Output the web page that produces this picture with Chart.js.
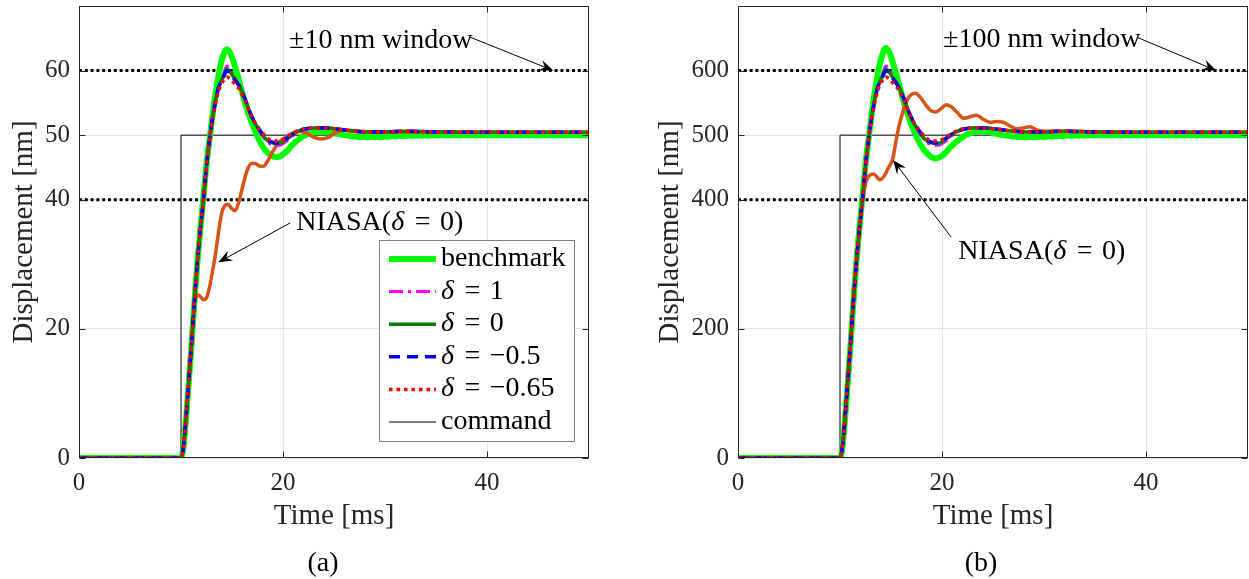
<!DOCTYPE html>
<html>
<head>
<meta charset="utf-8">
<script src="https://cdn.jsdelivr.net/npm/chart.js@4.4.1/dist/chart.umd.min.js"></script>
<style>
  html, body { margin: 0; padding: 0; background: #fff; }
  #wrap { position: relative; width: 1249px; height: 579px; overflow: hidden; }
  canvas { position: absolute; top: 0; }
  #cvA { left: 0; }
  #cvB { left: 620px; }
  .cap { position: absolute; top: 562px; line-height: 1; transform: translate(-50%, -50%);
         font: 28px "Liberation Serif", "Times New Roman", serif; color: #000; }
</style>
</head>
<body>
<div id="wrap">
  <canvas id="cvA" width="620" height="579"></canvas>
  <canvas id="cvB" width="629" height="579"></canvas>
  <div class="cap" style="left:323px">(a)</div>
  <div class="cap" style="left:981px">(b)</div>
</div>
<script>
var FONT = '"Liberation Serif", "Times New Roman", serif';

// time grid [ms] shared by benchmark and the delta runs
var T = [0, 10, 10.2, 10.4, 10.7, 11.0, 11.3, 11.6, 11.9, 12.2,
         12.5, 12.9, 13.3, 13.7, 14.1, 14.5, 14.9, 15.3, 15.8, 16.3,
         16.8, 17.3, 17.8, 18.3, 18.8, 19.3, 19.8, 20.3, 20.8, 21.5,
         22.2, 23, 24, 25, 26, 27, 28, 30, 32, 35,
         40, 45, 50];

// (a) 50 nm step
var benchA = [0, 0, 1.2, 4.2, 10.4, 16.8, 23.8, 30.2, 35.6, 40.4,
              45.5, 50.6, 55.6, 59.4, 62.2, 63.3, 62.5, 60.6, 57.8, 54.9,
              52.5, 50.5, 48.8, 47.6, 46.9, 46.6, 46.8, 47.4, 48.3, 49.3,
              50.0, 50.4, 50.5, 50.3, 50.0, 49.8, 49.7, 49.75, 49.9, 50.0,
              50.0, 50.0, 50.0];
var d1A = [0, 0, 1.3, 4.4, 10.6, 17.0, 24.0, 30.2, 35.4, 40.0,
           45.2, 50.6, 54.7, 57.6, 59.1, 60.7, 60.0, 58.8, 57.4, 55.4,
           53.3, 51.6, 50.4, 49.2, 48.6, 48.4, 48.5, 49.0, 49.7, 50.5,
           50.9, 51.1, 51.15, 51.0, 50.8, 50.6, 50.5, 50.5, 50.6, 50.5,
           50.45, 50.45, 50.45];
var d0A = [0, 0, 1.3, 4.4, 10.6, 17.0, 24.0, 30.2, 35.4, 40.0,
           45.2, 50.6, 54.6, 57.5, 58.9, 60.3, 59.6, 58.6, 57.4, 55.5,
           53.4, 51.7, 50.6, 49.4, 48.9, 48.7, 48.8, 49.3, 49.9, 50.6,
           50.95, 51.1, 51.15, 51.0, 50.8, 50.6, 50.5, 50.5, 50.6, 50.5,
           50.45, 50.45, 50.45];
var dm05A = [0, 0, 1.3, 4.4, 10.6, 17.0, 24.0, 30.2, 35.4, 40.0,
             45.2, 50.6, 54.5, 57.4, 58.7, 60.0, 59.4, 58.5, 57.3, 55.5,
             53.4, 51.8, 50.6, 49.5, 49.0, 48.8, 48.9, 49.4, 50.0, 50.6,
             50.95, 51.1, 51.1, 51.0, 50.8, 50.6, 50.5, 50.5, 50.6, 50.5,
             50.45, 50.45, 50.45];
var dm065A = [0, 0, 1.3, 4.4, 10.6, 17.0, 24.0, 30.2, 35.4, 40.0,
              45.2, 50.5, 54.2, 56.9, 58.3, 59.0, 58.6, 57.9, 56.9, 55.2,
              53.3, 51.8, 50.7, 49.8, 49.2, 49.1, 49.2, 49.6, 50.1, 50.7,
              51.0, 51.1, 51.1, 51.0, 50.8, 50.6, 50.5, 50.5, 50.6, 50.5,
              50.45, 50.45, 50.45];
var niasaTA = [0, 10, 10.2, 10.4, 10.7, 11.0, 11.3, 11.6, 11.9, 12.2,
               12.5, 12.8, 13.1, 13.4, 13.7, 14.0, 14.3, 14.6, 15.0, 15.3,
               15.7, 16.1, 16.5, 16.9, 17.3, 17.7, 18.1, 18.5, 18.9, 19.4,
               19.9, 20.4, 21.0, 21.6, 22.3, 23.0, 23.7, 24.4, 25.2, 26,
               28, 30, 35, 40, 45, 50];
var niasaA = [0, 0, 1.3, 4.4, 10.6, 17.0, 23.4, 25.3, 25.0, 24.5,
              24.8, 26.5, 29.0, 31.8, 35.2, 38.0, 39.1, 39.3, 38.6, 38.3,
              39.8, 42.4, 44.6, 45.6, 45.6, 45.2, 45.2, 46.0, 47.2, 48.5,
              49.3, 49.8, 50.4, 50.6, 50.3, 49.7, 49.4, 49.6, 50.4, 50.8,
              50.55, 50.5, 50.5, 50.45, 50.45, 50.45];
var cmdT = [0, 10, 10, 50];
var cmdA = [0, 0, 50, 50];
var winT = [0, 50];
var winHiA = [60, 60];
var winLoA = [40, 40];

// (b) 500 nm step
var benchB = [0, 0, 12, 42, 104, 168, 238, 302, 356, 404,
              455, 506, 556, 594, 622, 635, 626, 606, 578, 549,
              525, 505, 488, 476, 468, 464, 466, 472, 481, 491,
              499, 504, 506, 503, 500, 498, 497, 497.5, 499, 500,
              500, 500, 500];
var d1B = [0, 0, 13, 44, 106, 170, 240, 302, 354, 400,
           452, 506, 547, 576, 591, 607, 600, 588, 574, 554,
           533, 516, 504, 492, 486, 484, 485, 490, 497, 505,
           509, 511, 511.5, 510, 508, 506, 505, 505, 506, 505,
           504.5, 504.5, 504.5];
var d0B = [0, 0, 13, 44, 106, 170, 240, 302, 354, 400,
           452, 506, 546, 575, 589, 603, 596, 586, 574, 555,
           534, 517, 506, 494, 489, 487, 488, 493, 499, 506,
           509.5, 511, 511.5, 510, 508, 506, 505, 505, 506, 505,
           504.5, 504.5, 504.5];
var dm05B = [0, 0, 13, 44, 106, 170, 240, 302, 354, 400,
             452, 506, 545, 574, 587, 600, 594, 585, 573, 555,
             534, 518, 506, 495, 490, 488, 489, 494, 500, 506,
             509.5, 511, 511, 510, 508, 506, 505, 505, 506, 505,
             504.5, 504.5, 504.5];
var dm065B = [0, 0, 13, 44, 106, 170, 240, 302, 354, 400,
              452, 505, 542, 569, 583, 590, 586, 579, 569, 552,
              533, 518, 507, 498, 492, 491, 492, 496, 501, 507,
              510, 511, 511, 510, 508, 506, 505, 505, 506, 505,
              504.5, 504.5, 504.5];
var niasaTB = [0, 10, 10.2, 10.4, 10.7, 11.0, 11.3, 11.6, 11.9, 12.2,
               12.5, 12.9, 13.3, 13.9, 14.3, 14.7, 15.2, 15.5, 15.8, 16.2,
               16.6, 17.0, 17.4, 17.9, 18.4, 18.9, 19.4, 19.9, 20.4, 20.9,
               21.5, 22.1, 22.7, 23.4, 24.0, 24.7, 25.3, 26.0, 26.6, 27.3,
               28.0, 28.6, 29.3, 30, 32, 35, 40, 45, 50];
var niasaB = [0, 0, 13, 44, 106, 170, 240, 302, 354, 398,
              425, 438, 440, 431, 436, 448, 465, 492, 515, 538,
              555, 563, 565, 558, 547, 538, 536, 541, 547, 544,
              535, 526, 528, 531, 525, 520, 521, 520, 515, 510,
              511, 513, 508, 506, 506, 505, 504.5, 504.5, 504.5];
var cmdB = [0, 0, 500, 500];
var winHiB = [600, 600];
var winLoB = [400, 400];

var xTicks = [0, 20, 40];
var yTicksA = [0, 20, 40, 50, 60];
var yTicksB = [0, 200, 400, 500, 600];

function pts(t, v) {
  return t.map(function(x, i) { return {x: x, y: v[i]}; });
}

function line(label, t, v, color, width, dash, order, smooth) {
  return {
    label: label,
    data: pts(t, v),
    borderColor: color,
    backgroundColor: color,
    borderWidth: width,
    borderDash: dash,
    order: order,
    fill: false,
    cubicInterpolationMode: smooth ? 'monotone' : 'default',
    tension: 0
  };
}

function makeSets(s) {
  return [
    line('δ = −0.65', T, s.dm065, '#ff0000', 3.5, [3.5, 4], 1, true),
    line('δ = −0.5', T, s.dm05, '#0000ff', 3.5, [11, 7], 2, true),
    line('δ = 0', T, s.d0, '#008000', 3.5, [], 3, true),
    line('δ = 1', T, s.d1, '#ff00ff', 3, [14, 5, 3, 5], 4, true),
    line('NIASA', s.niasaT, s.niasa, '#d95319', 3.5, [], 5, true),
    line('benchmark', T, s.bench, '#00ff00', 6, [], 6, true),
    line('command', cmdT, s.cmd, '#000000', 1, [], 7, false),
    line('win hi', winT, s.winHi, '#000000', 3, [3, 2.8], 8, false),
    line('win lo', winT, s.winLo, '#000000', 3, [3, 2.8], 8, false)
  ];
}

// upright text with italic δ and a bit of extra room round '='
function richText(ctx, str, x, y, size) {
  var up = size + 'px ' + FONT, it = 'italic ' + size + 'px ' + FONT;
  var cx = x;
  str.split('δ').forEach(function(p, i) {
    if (i > 0) {
      ctx.font = it;
      ctx.fillText('δ', cx, y);
      cx += ctx.measureText('δ').width + 1;
    }
    ctx.font = up;
    p.split(' = ').forEach(function(q, j) {
      if (j > 0) {
        cx += ctx.measureText(' ').width + 2.5;
        ctx.fillText('=', cx, y);
        cx += ctx.measureText('=').width + ctx.measureText(' ').width + 2.5;
      }
      ctx.fillText(q, cx, y);
      cx += ctx.measureText(q).width;
    });
  });
  return cx;
}

function arrow(ctx, x1, y1, x2, y2) {
  var a = Math.atan2(y2 - y1, x2 - x1);
  var c = Math.cos(a), s = Math.sin(a), L = 14, W = 5.5;
  ctx.beginPath();
  ctx.moveTo(x1, y1);
  ctx.lineTo(x2 - c * L * 0.6, y2 - s * L * 0.6);
  ctx.stroke();
  ctx.beginPath();
  ctx.moveTo(x2, y2);
  ctx.lineTo(x2 - c * L - s * W, y2 - s * L + c * W);
  ctx.lineTo(x2 - c * L * 0.65, y2 - s * L * 0.65);
  ctx.lineTo(x2 - c * L + s * W, y2 - s * L - c * W);
  ctx.closePath();
  ctx.fill();
}

// box round the axes with inward tick marks
var framePlugin = {
  id: 'frame',
  afterDatasetsDraw: function(chart) {
    var ctx = chart.ctx, a = chart.chartArea;
    var xs = chart.scales.x, ys = chart.scales.y;
    var L = Math.round(a.left) + 0.5, R = Math.round(a.right) - 0.5;
    var Tp = Math.round(a.top) + 0.5, B = Math.round(a.bottom) - 0.5;
    ctx.save();
    ctx.strokeStyle = '#262626';
    ctx.lineWidth = 1;
    ctx.beginPath();
    xs.ticks.forEach(function(t) {
      var p = Math.round(xs.getPixelForValue(t.value)) + 0.5;
      ctx.moveTo(p, B); ctx.lineTo(p, B - 6);
      ctx.moveTo(p, Tp); ctx.lineTo(p, Tp + 6);
    });
    ys.ticks.forEach(function(t) {
      var p = Math.round(ys.getPixelForValue(t.value)) + 0.5;
      ctx.moveTo(L, p); ctx.lineTo(L + 6, p);
      ctx.moveTo(R, p); ctx.lineTo(R - 6, p);
    });
    ctx.stroke();
    ctx.strokeRect(L, Tp, R - L, B - Tp);
    ctx.restore();
  }
};

var notesPlugin = {
  id: 'notes',
  afterDraw: function(chart, args, opts) {
    var ctx = chart.ctx, xs = chart.scales.x, ys = chart.scales.y;
    ctx.save();
    ctx.fillStyle = '#000';
    ctx.strokeStyle = '#000';
    ctx.lineWidth = 1;
    ctx.textBaseline = 'alphabetic';
    ctx.textAlign = 'left';
    (opts.items || []).forEach(function(n) {
      richText(ctx, n.text, xs.getPixelForValue(n.x), ys.getPixelForValue(n.y), 28);
      arrow(ctx, xs.getPixelForValue(n.from[0]), ys.getPixelForValue(n.from[1]),
                 xs.getPixelForValue(n.to[0]), ys.getPixelForValue(n.to[1]));
    });
    ctx.restore();
  }
};

var legendPlugin = {
  id: 'boxLegend',
  afterDraw: function(chart, args, opts) {
    if (!opts.labels) return;
    var ctx = chart.ctx, a = chart.chartArea;
    var w = 195, h = 201;
    var left = Math.round(a.right - 15 - w), top = Math.round(a.bottom - 17 - h);
    ctx.save();
    ctx.fillStyle = '#fff';
    ctx.fillRect(left, top, w, h);
    ctx.strokeStyle = '#808080';
    ctx.lineWidth = 1;
    ctx.strokeRect(left + 0.5, top + 0.5, w, h);
    opts.labels.forEach(function(lab, i) {
      var ds = chart.data.datasets.filter(function(d) { return d.label === lab; })[0];
      var cy = top + 19 + i * 32.6;
      ctx.strokeStyle = ds.borderColor;
      ctx.lineWidth = ds.borderWidth;
      ctx.setLineDash(ds.borderDash || []);
      ctx.beginPath();
      ctx.moveTo(left + 10, cy);
      ctx.lineTo(left + 57, cy);
      ctx.stroke();
      ctx.setLineDash([]);
      ctx.fillStyle = '#000';
      ctx.textBaseline = 'alphabetic';
      ctx.textAlign = 'left';
      richText(ctx, lab, left + 62, cy + 7, 28);
    });
    ctx.restore();
  }
};

function makeChart(id, c) {
  return new Chart(document.getElementById(id), {
    type: 'line',
    data: { datasets: c.sets },
    options: {
      responsive: false,
      animation: false,
      devicePixelRatio: 1,
      parsing: false,
      layout: { padding: { left: 0, right: c.padRight, top: 6, bottom: 0 } },
      elements: { point: { radius: 0, hoverRadius: 0 } },
      plugins: {
        legend: { display: false },
        tooltip: { enabled: false },
        notes: { items: c.notes },
        boxLegend: { labels: c.legend }
      },
      scales: {
        x: {
          type: 'linear', min: 0, max: 50,
          afterBuildTicks: function(s) { s.ticks = xTicks.map(function(v) { return {value: v}; }); },
          afterFit: function(s) { s.height = 121; s.paddingLeft = 0; s.paddingRight = 0; },
          grid: { color: '#e6e6e6', drawTicks: false },
          border: { display: false },
          ticks: { padding: 10, color: '#262626', font: { family: FONT, size: 25 } },
          title: { display: true, text: 'Time [ms]', color: '#262626',
                   font: { family: FONT, size: 29 }, padding: { top: 0, bottom: 45 } }
        },
        y: {
          type: 'linear', min: 0, max: c.ymax,
          afterBuildTicks: function(s) { s.ticks = c.yTicks.map(function(v) { return {value: v}; }); },
          afterFit: function(s) { s.width = c.yWidth; s.paddingTop = 0; s.paddingBottom = 0; },
          grid: { color: '#e6e6e6', drawTicks: false },
          border: { display: false },
          ticks: { padding: 9, color: '#262626', font: { family: FONT, size: 25 } },
          title: { display: true, text: 'Displacement [nm]', color: '#262626',
                   font: { family: FONT, size: 29 }, padding: { top: c.yTitlePad, bottom: 0 } }
        }
      }
    },
    plugins: [framePlugin, notesPlugin, legendPlugin]
  });
}

makeChart('cvA', {
  sets: makeSets({ bench: benchA, d1: d1A, d0: d0A, dm05: dm05A, dm065: dm065A,
                   niasaT: niasaTA, niasa: niasaA, cmd: cmdA, winHi: winHiA, winLo: winLoA }),
  ymax: 70, yTicks: yTicksA, yWidth: 79, yTitlePad: 7, padRight: 31,
  legend: ['benchmark', 'δ = 1', 'δ = 0', 'δ = −0.5', 'δ = −0.65', 'command'],
  notes: [
    { text: '±10 nm window', x: 20.6, y: 63.55, from: [38.3, 65.2], to: [46.5, 60] },
    { text: 'NIASA(δ = 0)', x: 21.3, y: 35.3, from: [20.7, 36.4], to: [13.66, 30.3] }
  ]
});

makeChart('cvB', {
  sets: makeSets({ bench: benchB, d1: d1B, d0: d0B, dm05: dm05B, dm065: dm065B,
                   niasaT: niasaTB, niasa: niasaB, cmd: cmdB, winHi: winHiB, winLo: winLoB }),
  ymax: 700, yTicks: yTicksB, yWidth: 118, yTitlePad: 33, padRight: 1,
  legend: null,
  notes: [
    { text: '±100 nm window', x: 20.1, y: 636.8, from: [39.2, 651], to: [46.9, 600] },
    { text: 'NIASA(δ = 0)', x: 21.6, y: 308, from: [20.9, 342], to: [15.2, 461.5] }
  ]
});
</script>
</body>
</html>
